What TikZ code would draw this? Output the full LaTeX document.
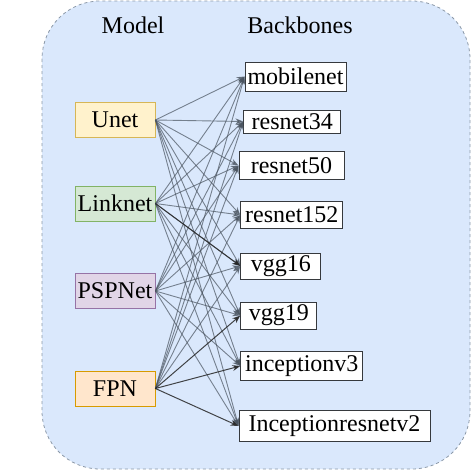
\documentclass[tikz,border=0pt]{standalone}
\usepackage{fontspec}
\setmainfont{Liberation Serif}
\usetikzlibrary{arrows.meta}
\definecolor{contfill}{HTML}{DAE8FC}
\definecolor{contdraw}{HTML}{8C99A8}
\definecolor{ufill}{HTML}{FFF2CC}\definecolor{udraw}{HTML}{D6B656}
\definecolor{lfill}{HTML}{D5E8D4}\definecolor{ldraw}{HTML}{82B366}
\definecolor{pfill}{HTML}{E1D5E7}\definecolor{pdraw}{HTML}{9673A6}
\definecolor{ffill}{HTML}{FFE6CC}\definecolor{fdraw}{HTML}{D79B00}
\definecolor{bbdraw}{HTML}{36393D}
\definecolor{edgecol}{HTML}{4A5460}
\tikzset{
  txt/.style={font=\fontsize{24}{26}\selectfont, inner sep=0pt},
  model/.style={txt, draw, line width=0.8pt, minimum width=80pt, minimum height=35pt},
  bbox/.style={txt, draw=bbdraw, fill=white, line width=1pt},
  edge/.style={draw=edgecol, opacity=0.7, line width=0.9pt, -{Stealth[length=8pt,width=6pt]}},
  dedge/.style={draw=black!85, opacity=0.85, line width=1pt, -{Stealth[length=8pt,width=6pt]}}
}
\begin{document}
\begin{tikzpicture}[x=1pt,y=-1pt]
\useasboundingbox (0,0) rectangle (471,472);
\draw[contdraw, fill=contfill, dashed, line width=0.8pt, rounded corners=58pt] (42,1) rectangle (470,469);
\node[txt] (tmodel) at (133,25) {Model};
\node[txt] (tbb) at (300,25) {Backbones};
\node[model, fill=ufill, draw=udraw] (unet) at (115,120) {Unet};
\node[model, fill=lfill, draw=ldraw] (link) at (115,203.5) {Linknet};
\node[model, fill=pfill, draw=pdraw] (psp) at (115,291) {PSPNet};
\node[model, fill=ffill, draw=fdraw] (fpn) at (115,388.5) {FPN};
\node[bbox, minimum width=101pt, minimum height=29pt] (b1) at (295.5,76.5) {mobilenet};
\node[bbox, minimum width=97pt, minimum height=23pt] (b2) at (292.3,121.5) {resnet34};
\node[bbox, minimum width=105pt, minimum height=27.6pt] (b3) at (291.5,165.5) {resnet50};
\node[bbox, minimum width=102pt, minimum height=26.6pt] (b4) at (291.8,215) {resnet152};
\node[bbox, minimum width=80pt, minimum height=26pt] (b5) at (280.8,266) {vgg16};
\node[bbox, minimum width=76pt, minimum height=27pt] (b6) at (278.8,315.5) {vgg19};
\node[bbox, minimum width=122pt, minimum height=28.3pt] (b7) at (301.8,366) {inceptionv3};
\node[bbox, minimum width=191pt, minimum height=30.3pt] (b8) at (334.5,426) {Inceptionresnetv2};
\foreach \m in {unet,link,psp}{
  \foreach \b in {b1,b2,b3,b4,b5,b6,b7,b8}{
    \draw[edge] (\m.east) -- (\b.west);
  }
}
\foreach \b in {b1,b2,b3,b4,b5}{
  \draw[edge] (fpn.east) -- (\b.west);
}
\foreach \b in {b6,b7,b8}{
  \draw[dedge] (fpn.east) -- (\b.west);
}
\draw[dedge] (link.east) -- (b5.west);
\end{tikzpicture}
\end{document}
